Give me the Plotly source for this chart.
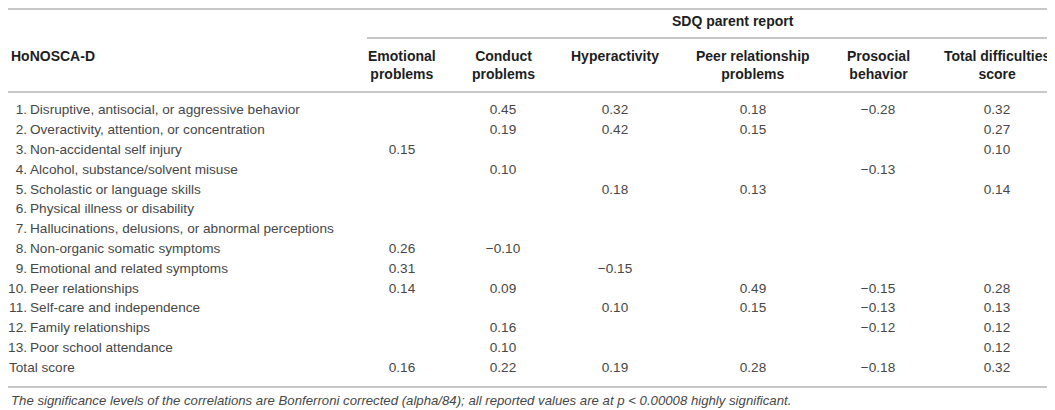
import plotly.graph_objects as go

# table content
row_labels = [
    "1. Disruptive, antisocial, or aggressive behavior",
    "2. Overactivity, attention, or concentration",
    "3. Non-accidental self injury",
    "4. Alcohol, substance/solvent misuse",
    "5. Scholastic or language skills",
    "6. Physical illness or disability",
    "7. Hallucinations, delusions, or abnormal perceptions",
    "8. Non-organic somatic symptoms",
    "9. Emotional and related symptoms",
    "10. Peer relationships",
    "11. Self-care and independence",
    "12. Family relationships",
    "13. Poor school attendance",
    "Total score",
]
col_headers = [
    "Emotional<br>problems",
    "Conduct<br>problems",
    "Hyperactivity",
    "Peer relationship<br>problems",
    "Prosocial<br>behavior",
    "Total difficulties<br>score",
]
emotional = [None, None, 0.15, None, None, None, None, 0.26, 0.31, 0.14, None, None, None, 0.16]
conduct = [0.45, 0.19, None, 0.10, None, None, None, -0.10, None, 0.09, None, 0.16, 0.10, 0.22]
hyperactivity = [0.32, 0.42, None, None, 0.18, None, None, None, -0.15, None, 0.10, None, None, 0.19]
peer = [0.18, 0.15, None, None, 0.13, None, None, None, None, 0.49, 0.15, None, None, 0.28]
prosocial = [-0.28, None, None, -0.13, None, None, None, None, None, -0.15, -0.13, -0.12, None, -0.18]
total_diff = [0.32, 0.27, 0.10, None, 0.14, None, None, None, None, 0.28, 0.13, 0.12, 0.12, 0.32]

group_title = "SDQ parent report"
stub_title = "HoNOSCA-D"
footnote = ("The significance levels of the correlations are Bonferroni corrected (alpha/84); "
            "all reported values are at p < 0.00008 highly significant.")

# layout (pixel-like axis units); the page body adds an 8px margin, so the
# figure is shrunk by that much and the axes start at 8
W, H = 1055, 410
OFF = 8
LEFT = OFF + 1          # nothing can be drawn left of / above the body margin
col_x = [402, 503, 615, 753, 878, 997]
row_y0, row_step = 111, 19.8
FONT = "Liberation Sans"
BODY = "#474747"
HEAD = "#1e1e1e"
RULE = "#b4b4b4"


def fmt(v):
    if v is None:
        return ""
    s = "%.2f" % abs(v)
    return ("\u2212" + s) if v < 0 else s


row_y = [row_y0 + i * row_step for i in range(len(row_labels))]

fig = go.Figure()

# row labels: number right-aligned, text left-aligned
nums, names, ny, lone, lone_y = [], [], [], [], []
for lab, y in zip(row_labels, row_y):
    if ". " in lab and lab.split(". ")[0].isdigit():
        n, t = lab.split(". ", 1)
        nums.append(n + ".")
        names.append(t)
        ny.append(y)
    else:
        lone.append(lab)
        lone_y.append(y)

body_font = dict(family=FONT, size=13.6, color=BODY)
fig.add_trace(go.Scatter(x=[27] * len(nums), y=ny, text=nums, mode="text",
                         textposition="middle left", textfont=body_font,
                         hoverinfo="skip"))
fig.add_trace(go.Scatter(x=[30] * len(names), y=ny, text=names, mode="text",
                         textposition="middle right", textfont=body_font,
                         hoverinfo="skip"))
fig.add_trace(go.Scatter(x=[LEFT] * len(lone), y=lone_y, text=lone, mode="text",
                         textposition="middle right", textfont=body_font,
                         hoverinfo="skip"))

# value columns
for cx, col in zip(col_x, [emotional, conduct, hyperactivity, peer, prosocial, total_diff]):
    fig.add_trace(go.Scatter(x=[cx] * len(col), y=row_y, text=[fmt(v) for v in col],
                             mode="text", textposition="middle center",
                             textfont=body_font, hoverinfo="skip"))

# headers
head_font = dict(family=FONT, size=14, color=HEAD)
fig.add_annotation(x=733, y=21, text="<b>%s</b>" % group_title, showarrow=False,
                   font=head_font, xanchor="center", yanchor="middle")
fig.add_annotation(x=LEFT, y=56, text="<b>%s</b>" % stub_title, showarrow=False,
                   font=head_font, xanchor="left", yanchor="middle")
for cx, h in zip(col_x, col_headers):
    fig.add_annotation(x=cx, y=46, text="<b>%s</b>" % h, showarrow=False,
                       font=head_font, xanchor="center", yanchor="top", align="center")

fig.add_annotation(x=LEFT, y=400, text="<i>%s</i>" % footnote, showarrow=False,
                   font=dict(family=FONT, size=13.2, color=BODY), xanchor="left", yanchor="middle")

# rules
for x0, y in [(OFF, LEFT), (367, 38), (OFF, 92), (OFF, 387)]:
    fig.add_shape(type="line", x0=x0, x1=W, y0=y, y1=y, xref="x", yref="y",
                  line=dict(color=RULE, width=1.5))

fig.update_xaxes(range=[OFF, W], visible=False, fixedrange=True)
fig.update_yaxes(range=[H, OFF], visible=False, fixedrange=True)
fig.update_layout(width=W - OFF, height=H - OFF, margin=dict(l=0, r=0, t=0, b=0),
                  showlegend=False, plot_bgcolor="white", paper_bgcolor="white")

fig.write_html("out.html")
